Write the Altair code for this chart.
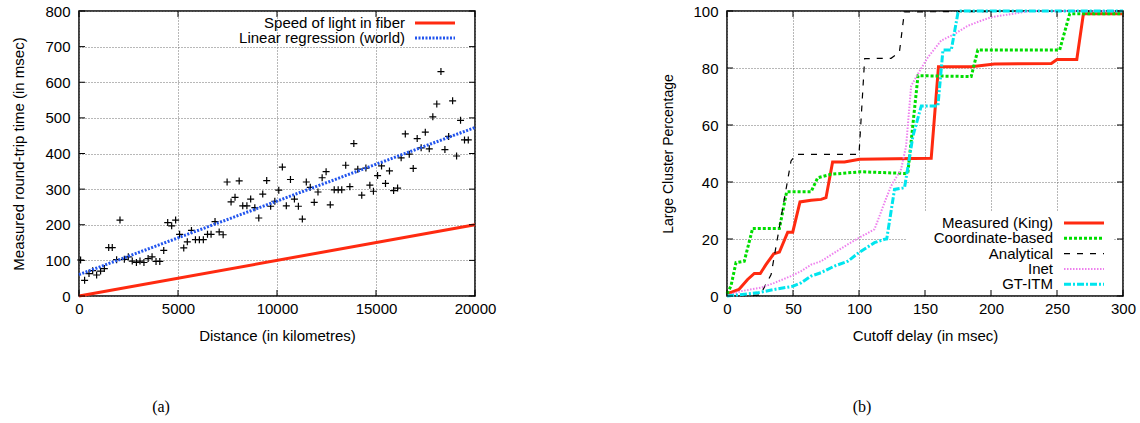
import altair as alt
import pandas as pd

# ---------------- Panel (a) data ----------------
distance_km = [80, 283, 505, 690, 890, 1090, 1280, 1500, 1680, 1900, 2070, 2290, 2490, 2690,
               2900, 3080, 3280, 3490, 3690, 3890, 4080, 4280, 4480, 4680, 4880, 5080, 5290,
               5470, 5680, 5880, 6080, 6280, 6490, 6670, 6870, 7080, 7280, 7480, 7680, 7880,
               8090, 8270, 8480, 8670, 8880, 9080, 9280, 9480, 9680, 9890, 10090, 10270,
               10470, 10680, 10880, 11080, 11280, 11480, 11680, 11880, 12070, 12280, 12480,
               12690, 12890, 13090, 13270, 13470, 13680, 13880, 14080, 14280, 14490, 14690,
               14870, 15080, 15280, 15480, 15680, 15890, 16090, 16270, 16480, 16680, 16880,
               17080, 17280, 17490, 17690, 17870, 18070, 18280, 18480, 18670, 18870, 19070,
               19270, 19470, 19660]
rtt_ms = [101, 44, 63, 71, 59, 70, 77, 136, 136, 102, 213, 103, 110, 98,
          94, 98, 94, 105, 110, 97, 97, 128, 206, 197, 213, 173, 135,
          152, 184, 158, 158, 158, 173, 173, 209, 180, 172, 320, 264, 277,
          323, 253, 253, 272, 248, 219, 286, 324, 252, 266, 297, 362,
          253, 327, 272, 252, 216, 320, 305, 263, 292, 332, 349,
          256, 298, 298, 298, 367, 307, 428, 356, 283, 359, 311,
          294, 338, 365, 316, 351, 296, 303, 388, 455, 398, 358,
          442, 416, 460, 413, 503, 539, 630, 411, 448, 548, 393,
          493, 438, 438]
fiber_x = [0, 20000]
fiber_y = [0, 200]
regression_x = [0, 20000]
regression_y = [60, 473]
a_xticks = [0, 5000, 10000, 15000, 20000]
a_yticks = [0, 100, 200, 300, 400, 500, 600, 700, 800]
a_legend = ["Speed of light in fiber", "Linear regression (world)"]

# ---------------- Panel (b) data ----------------
king_x = [0, 2, 9, 15.6, 20.7, 25.2, 29.5, 35.4, 39.7, 46, 49.8, 55.3, 63.7, 71.3, 75, 80, 89,
          100.4, 154.7, 160.2, 185, 202.6, 245.7, 250, 265, 270, 300]
king_y = [1, 1.1, 2.3, 5.8, 7.9, 7.9, 11, 14.8, 15.4, 22.4, 22.4, 33, 33.6, 33.9, 34.5, 47, 47,
          48, 48.3, 80.4, 80.4, 81.4, 81.6, 83, 83, 99, 99]
coord_x = [0, 3, 6.8, 13.1, 19.4, 39.7, 45.2, 63.7, 68.7, 78.8, 99, 101.6, 134.5, 137, 144.7,
           185, 190, 252, 259.6, 300]
coord_y = [0.8, 3.5, 11.7, 12.2, 23.7, 23.7, 36.6, 36.6, 41.5, 42.7, 43.5, 43.6, 43, 43.2, 77.3,
           77, 86.3, 86.3, 99, 99]
anal_x = [0, 25, 33.4, 48.5, 52.3, 100, 104.3, 124.3, 130.6, 134.4, 300]
anal_y = [0, 0.3, 7.5, 47.4, 49.7, 49.7, 83.3, 83.4, 85.5, 99.7, 100]
inet_x = [0, 10.6, 25.8, 35.9, 48.5, 56.1, 63.7, 71.3, 81.4, 91.5, 100.4, 111.7, 115.5, 119.3,
          124.3, 131.9, 135.7, 139.5, 144.6, 152.1, 162.2, 172.3, 182.4, 192.5, 200.1, 222.8,
          230, 300]
inet_y = [0, 1.7, 2.9, 4.6, 7, 8.7, 11, 12.2, 15.2, 18.1, 20.5, 23.4, 28, 32.8,
          38.6, 44.5, 52.7, 73.7, 77.9, 83.7, 89.6, 91.9, 94.8, 96.6, 97.8, 99.5,
          100, 100]
gtitm_x = [0, 23, 35.9, 49.8, 56.1, 63.7, 71.3, 81.4, 91.5, 100.4, 111.7, 119.3, 121, 126.9,
           134.5, 140.9, 147.2, 159.8, 163.6, 169.9, 175, 177, 300]
gtitm_y = [0, 1.1, 2.3, 3.4, 4.6, 7, 8.2, 10.5, 12.2, 15.4, 18.7, 19.9, 20, 37.4,
           38, 56.2, 66.7, 66.7, 86.3, 86.3, 99.5, 100, 100]
b_xticks = [0, 50, 100, 150, 200, 250, 300]
b_yticks = [0, 20, 40, 60, 80, 100]
b_legend = ["Measured (King)", "Coordinate-based", "Analytical", "Inet", "GT-ITM"]

# ---------------- styling ----------------
FONT = "Liberation Sans"
W_A, H_A = 396, 285
W_B, H_B = 396, 285
TICK = 6
GRID = dict(grid=True, gridDash=[1, 2], gridColor="#707070", gridWidth=1, gridOpacity=1,
            ticks=False, domain=False, labelFlush=False, labelOverlap=False, format="d",
            labelFontSize=15, labelColor="black", titleColor="black",
            titleFontWeight="normal", labelFont=FONT, titleFont=FONT)


def panel(x_dom, y_dom, x_vals, y_vals, x_title, y_title, W, H, y_title_size, y_title_x):
    xaxis = alt.Axis(values=x_vals, title=x_title, labelPadding=5, titleFontSize=15,
                     titleY=39, titleBaseline="middle", **GRID)
    yaxis = alt.Axis(values=y_vals, title=y_title, labelPadding=9, titleFontSize=y_title_size,
                     titleX=y_title_x, titleY=H / 2, titleAngle=-90, titleAlign="center",
                     titleBaseline="bottom", **GRID)
    xs = alt.Scale(domain=x_dom, nice=False, zero=False)
    ys = alt.Scale(domain=y_dom, nice=False, zero=False)

    def X(f):
        return alt.X(f"{f}:Q", scale=xs, axis=xaxis)

    def Y(f):
        return alt.Y(f"{f}:Q", scale=ys, axis=yaxis)

    return X, Y


def line_layer(xs, ys, X, Y, color, width, dash=None):
    df = pd.DataFrame({"x": xs, "y": ys, "o": list(range(len(xs)))})
    kw = dict(color=color, strokeWidth=width, strokeCap="butt", clip=False)
    if dash:
        kw["strokeDash"] = dash
    return alt.Chart(df).mark_line(**kw).encode(x=X("x"), y=Y("y"), order="o:Q")


def tick_layers(x_vals, y_vals, X, Y, W, H):
    dx = pd.DataFrame({"v": x_vals})
    dy = pd.DataFrame({"v": y_vals})
    k = dict(color="black", strokeWidth=1)
    return [
        alt.Chart(dx).mark_rule(**k).encode(x=X("v"), y=alt.value(H), y2=alt.value(H - TICK)),
        alt.Chart(dx).mark_rule(**k).encode(x=X("v"), y=alt.value(0), y2=alt.value(TICK)),
        alt.Chart(dy).mark_rule(**k).encode(y=Y("v"), x=alt.value(0), x2=alt.value(TICK)),
        alt.Chart(dy).mark_rule(**k).encode(y=Y("v"), x=alt.value(W), x2=alt.value(W - TICK)),
    ]


one = pd.DataFrame({"k": [0]})


def legend_entry(label, ypix, text_right, x1, x2, color, width, dash=None):
    t = alt.Chart(one).mark_text(text=label, align="right", baseline="middle", font=FONT,
                                 fontSize=15, color="black").encode(
        x=alt.value(text_right), y=alt.value(ypix))
    kw = dict(color=color, strokeWidth=width, strokeCap="butt")
    if dash:
        kw["strokeDash"] = dash
    r = alt.Chart(one).mark_rule(**kw).encode(
        x=alt.value(x1), x2=alt.value(x2), y=alt.value(ypix), y2=alt.value(ypix))
    return [t, r]


def caption(label, xpix, ypix):
    return alt.Chart(one).mark_text(text=label, font="Liberation Serif", fontSize=16,
                                    color="black", baseline="middle").encode(
        x=alt.value(xpix), y=alt.value(ypix))


# ---------------- Panel (a) ----------------
XA, YA = panel([0, 20000], [0, 800], a_xticks, a_yticks, "Distance (in kilometres)",
               "Measured round-trip time (in msec)", W_A, H_A, 15, -53)
scatter_df = pd.DataFrame({"d": distance_km, "r": rtt_ms})
RED = "#ff2a10"
BLUE = "#2255ee"
layers_a = [
    alt.Chart(scatter_df).mark_point(shape="M-1,0L1,0M0,-1L0,1", size=49, filled=False,
                                     color="black", strokeWidth=1.2, opacity=1, clip=False)
    .encode(x=XA("d"), y=YA("r")),
    line_layer(fiber_x, fiber_y, XA, YA, RED, 3),
    line_layer(regression_x, regression_y, XA, YA, BLUE, 3, [2, 1.5]),
]
layers_a += tick_layers(a_xticks, a_yticks, XA, YA, W_A, H_A)
layers_a += legend_entry(a_legend[0], 12, 326, 336, 376, RED, 3)
layers_a += legend_entry(a_legend[1], 27, 326, 336, 376, BLUE, 3, [2, 1.5])
layers_a.append(caption("(a)", 82, 396))
panel_a = alt.layer(*layers_a).properties(width=W_A, height=H_A)

# ---------------- Panel (b) ----------------
XB, YB = panel([0, 300], [0, 100], b_xticks, b_yticks, "Cutoff delay (in msec)",
               "Large Cluster Percentage", W_B, H_B, 14, -52)
C_KING = "#ff2a10"
C_COORD = "#00dd00"
C_ANAL = "#000000"
C_INET = "#ee80ee"
C_GT = "#00e5ee"
styles = [
    (C_KING, 3, None),
    (C_COORD, 3, [3, 2]),
    (C_ANAL, 1.2, [6, 7]),
    (C_INET, 2, [1.5, 1.5]),
    (C_GT, 3, [7, 2, 2, 2]),
]
box = alt.Chart(one).mark_rect(color="white", opacity=1).encode(
    x=alt.value(180), x2=alt.value(386), y=alt.value(200), y2=alt.value(H_B - 1))
layers_b = [box]
series = [(king_x, king_y), (coord_x, coord_y), (anal_x, anal_y), (inet_x, inet_y),
          (gtitm_x, gtitm_y)]
for (sx, sy), (c, w, d) in zip(series, styles):
    layers_b.append(line_layer(sx, sy, XB, YB, c, w, d))
layers_b += tick_layers(b_xticks, b_yticks, XB, YB, W_B, H_B)
ys_leg = [212, 227.3, 242.6, 257.9, 273.2]
for lab, yy, (c, w, d) in zip(b_legend, ys_leg, styles):
    layers_b += legend_entry(lab, yy, 326, 337, 377, c, w, d)
layers_b.append(caption("(b)", 135, 396))
panel_b = alt.layer(*layers_b).properties(width=W_B, height=H_B)

chart = (
    alt.hconcat(panel_a, panel_b, spacing=252, bounds="flush")
    .properties(padding={"left": 10, "top": 3, "right": 0, "bottom": 0})
    .configure(font=FONT)
    .configure_view(stroke="black", strokeWidth=1.5)
)

chart.save("out.html", embed_options={"renderer": "svg", "actions": False})
